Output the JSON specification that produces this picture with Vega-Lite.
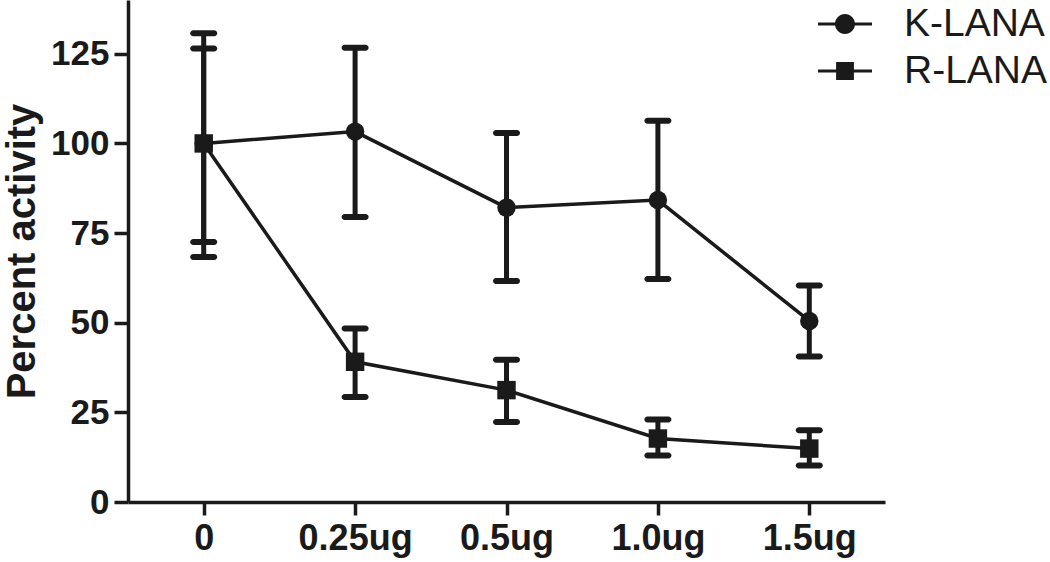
{
  "$schema": "https://vega.github.io/schema/vega-lite/v6.json",
  "autosize": {"type": "none"},
  "padding": {"left": 128, "top": 0, "right": 165, "bottom": 60},
  "width": 757,
  "height": 502,
  "background": "white",
  "config": {
    "view": {"stroke": null},
    "font": "Liberation Sans",
    "axis": {
      "domainColor": "#1a1a1a",
      "domainWidth": 3.5,
      "tickColor": "#1a1a1a",
      "tickWidth": 3.5,
      "labelColor": "#1a1a1a",
      "labelFont": "Liberation Sans",
      "labelFontWeight": "bold",
      "titleColor": "#1a1a1a",
      "titleFont": "Liberation Sans",
      "titleFontWeight": "bold",
      "grid": false
    }
  },
  "data": {
    "values": [
      {"dose": "0", "series": "K-LANA", "mean": 100, "lo": 68.3, "hi": 130.7},
      {"dose": "0.25ug", "series": "K-LANA", "mean": 103.3, "lo": 79.5, "hi": 126.7},
      {"dose": "0.5ug", "series": "K-LANA", "mean": 82.1, "lo": 61.6, "hi": 102.9},
      {"dose": "1.0ug", "series": "K-LANA", "mean": 84.2, "lo": 62.2, "hi": 106.3},
      {"dose": "1.5ug", "series": "K-LANA", "mean": 50.5, "lo": 40.6, "hi": 60.4},
      {"dose": "0", "series": "R-LANA", "mean": 100, "lo": 72.5, "hi": 126.5},
      {"dose": "0.25ug", "series": "R-LANA", "mean": 39.1, "lo": 29.3, "hi": 48.4},
      {"dose": "0.5ug", "series": "R-LANA", "mean": 31.2, "lo": 22.3, "hi": 39.7},
      {"dose": "1.0ug", "series": "R-LANA", "mean": 17.7, "lo": 13.0, "hi": 23.0},
      {"dose": "1.5ug", "series": "R-LANA", "mean": 14.9, "lo": 10.2, "hi": 20.0}
    ]
  },
  "encoding": {
    "x": {
      "field": "dose",
      "type": "ordinal",
      "sort": ["0", "0.25ug", "0.5ug", "1.0ug", "1.5ug"],
      "scale": {"type": "point", "padding": 0.5},
      "axis": {
        "title": null,
        "labelAngle": 0,
        "labelFontSize": 36,
        "tickSize": 13,
        "labelPadding": 6
      }
    }
  },
  "layer": [
    {
      "mark": {"type": "line", "color": "#1a1a1a", "strokeWidth": 3.5},
      "encoding": {
        "y": {
          "field": "mean",
          "type": "quantitative",
          "scale": {"domain": [0, 140], "nice": false},
          "axis": {
            "title": "Percent activity",
            "titleFontSize": 40,
            "titlePadding": 8,
            "values": [0, 25, 50, 75, 100, 125],
            "labelFontSize": 35,
            "tickSize": 14,
            "labelPadding": 5
          }
        },
        "detail": {"field": "series"}
      }
    },
    {
      "mark": {"type": "rule", "color": "#1a1a1a", "strokeWidth": 5},
      "encoding": {
        "y": {"field": "lo", "type": "quantitative"},
        "y2": {"field": "hi"}
      }
    },
    {
      "mark": {"type": "tick", "color": "#1a1a1a", "size": 27, "thickness": 6, "cornerRadius": 3, "opacity": 1},
      "encoding": {"y": {"field": "lo", "type": "quantitative"}}
    },
    {
      "mark": {"type": "tick", "color": "#1a1a1a", "size": 27, "thickness": 6, "cornerRadius": 3, "opacity": 1},
      "encoding": {"y": {"field": "hi", "type": "quantitative"}}
    },
    {
      "mark": {"type": "point", "filled": true, "color": "#1a1a1a", "opacity": 1, "size": 340},
      "encoding": {
        "y": {"field": "mean", "type": "quantitative"},
        "shape": {
          "field": "series",
          "type": "nominal",
          "scale": {"domain": ["K-LANA", "R-LANA"], "range": ["circle", "square"]},
          "legend": null
        }
      }
    },
    {
      "mark": {"type": "point", "filled": true, "color": "#1a1a1a", "opacity": 0, "size": 10},
      "encoding": {
        "y": {"field": "mean", "type": "quantitative"},
        "shape": {
          "field": "series",
          "type": "nominal",
          "scale": {
            "domain": ["K-LANA", "R-LANA"],
            "range": [
              "M-1,-0.06H-0.36V0.06H-1Z M0.36,-0.06H1V0.06H0.36Z M-0.37,0A0.37,0.37 0 1,1 0.37,0A0.37,0.37 0 1,1 -0.37,0Z",
              "M-1,-0.06H-0.33V0.06H-1Z M0.33,-0.06H1V0.06H0.33Z M-0.33,-0.33H0.33V0.33H-0.33Z"
            ]
          },
          "legend": {
            "title": null,
            "orient": "none",
            "legendX": 690,
            "legendY": -3,
            "padding": 0,
            "symbolSize": 2916,
            "symbolOpacity": 1,
            "symbolFillColor": "#1a1a1a",
            "symbolStrokeColor": "#1a1a1a",
            "symbolStrokeWidth": 0,
            "labelFont": "Liberation Sans",
            "labelFontSize": 39,
            "labelColor": "#1a1a1a",
            "labelOffset": 32,
            "labelLimit": 400,
            "rowPadding": 0
          }
        }
      }
    }
  ],
  "resolve": {"scale": {"shape": "independent"}, "legend": {"shape": "independent"}}
}
